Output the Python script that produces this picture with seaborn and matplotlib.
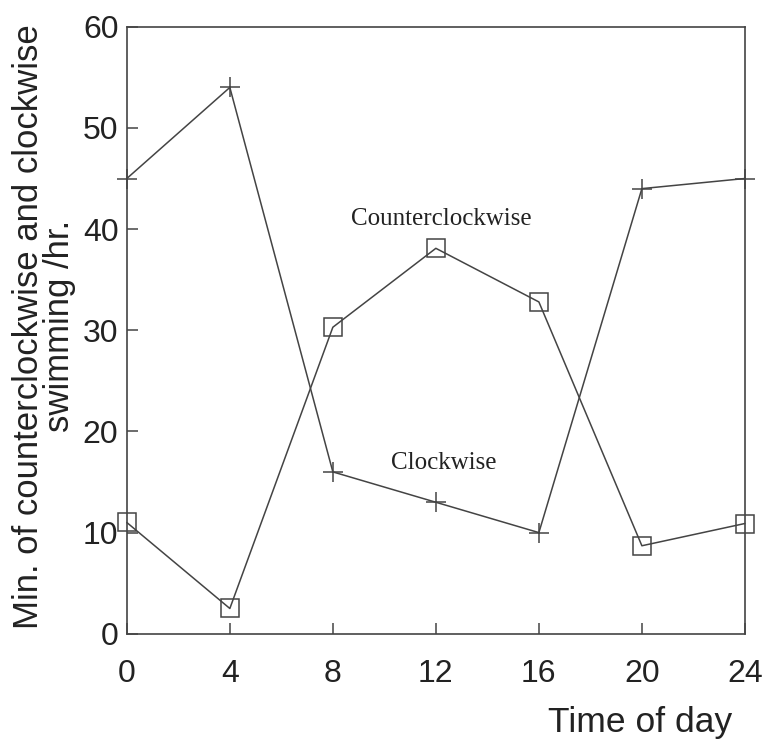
import matplotlib
matplotlib.use("Agg")
import matplotlib.pyplot as plt
import seaborn as sns
import pandas as pd

hours = [0, 4, 8, 12, 16, 20, 24]
clockwise = [45, 54, 16, 13, 10, 44, 45]
counterclockwise = [11, 2.5, 30.3, 38.1, 32.8, 8.7, 10.9]
x_ticks = [0, 4, 8, 12, 16, 20, 24]
y_ticks = [0, 10, 20, 30, 40, 50, 60]

sns.set_theme(style="white")
plt.rcParams['font.family'] = ['Liberation Sans', 'DejaVu Sans']

df_cw = pd.DataFrame({"hour": hours, "value": clockwise})
df_ccw = pd.DataFrame({"hour": hours, "value": counterclockwise})

fig = plt.figure(figsize=(7.64, 7.43), dpi=100)
ax = fig.add_axes([0.166, 0.147, 0.809, 0.817])

col = "#444444"
sns.lineplot(data=df_cw, x="hour", y="value", ax=ax, color=col, linewidth=1.1,
             marker="+", markersize=15, markeredgewidth=1.1, markeredgecolor=col,
             clip_on=False)
sns.lineplot(data=df_ccw, x="hour", y="value", ax=ax, color=col, linewidth=1.1,
             marker="s", markersize=13.5, markerfacecolor="none",
             markeredgewidth=1.1, markeredgecolor=col, clip_on=False)

ax.set_xlim(0, 24)
ax.set_ylim(0, 60)
ax.set_xticks(x_ticks)
ax.set_yticks(y_ticks)
ax.tick_params(axis="both", direction="in", length=8, width=1.1, color=col,
               labelsize=23, labelcolor="#222222", bottom=True, left=True)
ax.tick_params(axis="x", pad=18)
ax.tick_params(axis="y", pad=6)
for s in ax.spines.values():
    s.set_color(col)
    s.set_linewidth(1.2)

ax.set_xlabel("")
ax.set_ylabel("")
fig.text(0.838, 0.028, "Time of day", fontsize=25.5, color="#222222",
         ha="center", va="center")
fig.text(0.058, 0.561, "Min. of counterclockwise and clockwise\nswimming /hr.",
         fontsize=25, color="#222222", rotation=90, ha="center", va="center",
         linespacing=0.92, multialignment="center")

ax.text(12.2, 41.0, "Counterclockwise", fontsize=18, family="Liberation Serif",
        color="#222222", ha="center", va="center")
ax.text(12.3, 16.9, "Clockwise", fontsize=18, family="Liberation Serif",
        color="#222222", ha="center", va="center")

fig.savefig("out.png", dpi=100, facecolor="white")
